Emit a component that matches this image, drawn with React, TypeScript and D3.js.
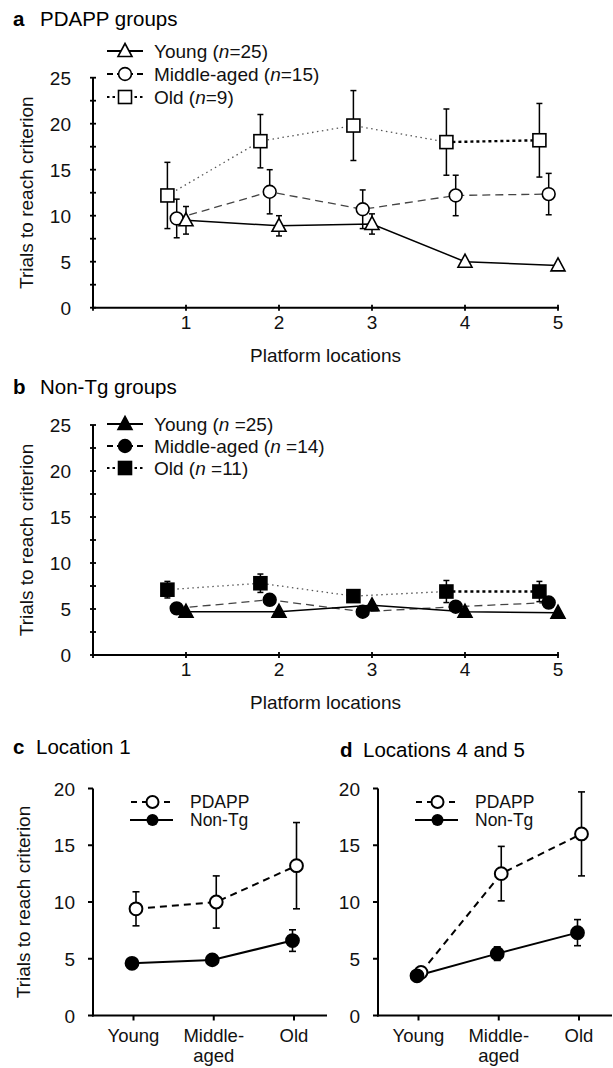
import React from 'react';
import * as d3 from 'd3';

// ---------- DATA ----------
const locations = [1, 2, 3, 4, 5];

// Panel a: PDAPP groups (means and s.e.m.)
const pdappYoung = [9.5, 8.9, 9.1, 5.0, 4.6];
const pdappYoungErr = [1.5, 1.1, 1.1, 0.3, 0.3];
const pdappMiddle = [9.7, 12.6, 10.7, 12.2, 12.35];
const pdappMiddleErr = [2.1, 2.4, 2.1, 2.2, 2.25];
const pdappOld = [12.2, 18.1, 19.8, 18.0, 18.2];
const pdappOldErr = [3.6, 2.9, 3.8, 3.6, 4.0];

// Panel b: Non-Tg groups
const nonTgYoung = [4.7, 4.7, 5.4, 4.7, 4.6];
const nonTgYoungErr = [0.3, 0.3, 0.3, 0.3, 0.3];
const nonTgMiddle = [5.07, 6.0, 4.7, 5.25, 5.7];
const nonTgMiddleErr = [0.4, 0.4, 0.4, 0.4, 0.6];
const nonTgOld = [7.1, 7.8, 6.4, 6.9, 6.9];
const nonTgOldErr = [0.9, 1.0, 0.65, 1.2, 1.1];

// Panels c, d
const ageGroups = ['Young', 'Middle-aged', 'Old'];
const ageLabels = [['Young'], ['Middle-', 'aged'], ['Old']];
const loc1Pdapp = [9.4, 10.0, 13.2];
const loc1PdappErr = [1.5, 2.3, 3.8];
const loc1NonTg = [4.6, 4.9, 6.6];
const loc1NonTgErr = [0.3, 0.3, 0.95];
const loc45Pdapp = [3.8, 12.5, 16.0];
const loc45PdappErr = [0.3, 2.4, 3.7];
const loc45NonTg = [3.5, 5.45, 7.3];
const loc45NonTgErr = [0.3, 0.6, 1.15];

const yTicksAB = d3.range(0, 25.01, 2.5);
const yLabelsAB = [0, 5, 10, 15, 20, 25];
const yTicksCD = [0, 5, 10, 15, 20];

const FONT = "'Liberation Sans', Arial, Helvetica, sans-serif";
const FS = 19;
const TFS = 20.5;
const LFS = 17.5;

type Marker = 'triangle' | 'circle' | 'square';

function MarkerShape({ type, x, y, filled }: { type: Marker; x: number; y: number; filled: boolean }) {
  const fill = filled ? '#000' : '#fff';
  const sw = 1.6;
  if (type === 'circle') return <circle cx={x} cy={y} r={6.4} fill={fill} stroke="#000" strokeWidth={sw} />;
  if (type === 'square')
    return <rect x={x - 6.5} y={y - 6.5} width={13} height={13} fill={fill} stroke="#000" strokeWidth={sw} />;
  const p = `M${x},${y - 7.5}L${x + 7},${y + 5.5}L${x - 7},${y + 5.5}Z`;
  return <path d={p} fill={fill} stroke="#000" strokeWidth={sw} strokeLinejoin="miter" />;
}

function ErrorBar({ x, yHi, yLo, cap = 3, sw = 1.5 }: { x: number; yHi: number; yLo: number; cap?: number; sw?: number }) {
  return (
    <g stroke="#000" strokeWidth={sw}>
      <line x1={x} x2={x} y1={yHi} y2={yLo} />
      <line x1={x - cap} x2={x + cap} y1={yHi} y2={yHi} />
      <line x1={x - cap} x2={x + cap} y1={yLo} y2={yLo} />
    </g>
  );
}

interface Series {
  values: number[];
  errs: number[];
  offset: number;
  marker: Marker;
  dash?: string;
  color: string;
  width: number;
  label: string;
  n: string;
}

function GroupPanel({
  y0, y25, title, letter, titleY, legendRows, series, filled,
}: {
  y0: number; y25: number; title: string; letter: string; titleY: number; legendRows: number[]; series: Series[]; filled: boolean;
}) {
  const x = d3.scaleLinear().domain([0, 5]).range([93, 558]);
  const y = d3.scaleLinear().domain([0, 25]).range([y0, y25]);
  const line = d3.line<[number, number]>().x((d) => d[0]).y((d) => d[1]);
  return (
    <g>
      <text x={13} y={titleY} fontFamily={FONT} fontSize={TFS}>
        <tspan fontWeight="bold">{letter}</tspan>
        <tspan x={40}>{title}</tspan>
      </text>
      {/* axes */}
      <g stroke="#000" strokeWidth={2}>
        <line x1={x(0)} x2={x(0)} y1={y(25)} y2={y(0) + 1} />
        <line x1={x(0) - 1} x2={x(5) + 1} y1={y(0)} y2={y(0)} />
      </g>
      <g stroke="#000" strokeWidth={1.8}>
        {yTicksAB.map((t) => (
          <line key={'yt' + t} x1={x(0) - 3} x2={x(0) + 3} y1={y(t)} y2={y(t)} />
        ))}
        {[0, ...locations].map((t) => (
          <line key={'xt' + t} x1={x(t)} x2={x(t)} y1={y(0) - 3} y2={y(0) + 3} />
        ))}
      </g>
      <g fontFamily={FONT} fontSize={FS} fill="#111">
        {yLabelsAB.map((t) => (
          <text key={'yl' + t} x={71} y={y(t) + 7} textAnchor="end">{t}</text>
        ))}
        {locations.map((t) => (
          <text key={'xl' + t} x={x(t)} y={y(0) + 21} textAnchor="middle">{t}</text>
        ))}
        <text x={(x(0) + x(5)) / 2} y={y(0) + 54} textAnchor="middle">Platform locations</text>
        <text transform={`translate(33,${(y(0) + y(25)) / 2}) rotate(-90)`} textAnchor="middle">Trials to reach criterion</text>
      </g>
      {/* lines */}
      {series.map((s, si) => {
        const pts: [number, number][] = s.values.map((v, i) => [x(locations[i] + s.offset), y(v)]);
        if (si === 0) {
          return (
            <g key={'ln' + si}>
              <path d={line(pts.slice(0, 4))!} fill="none" stroke={s.color} strokeWidth={s.width} strokeDasharray={s.dash} />
              <path d={line(pts.slice(3, 5))!} fill="none" stroke="#000" strokeWidth={2.4} strokeDasharray="3,3" />
            </g>
          );
        }
        return <path key={'ln' + si} d={line(pts)!} fill="none" stroke={s.color} strokeWidth={s.width} strokeDasharray={s.dash} />;
      })}
      {/* error bars & markers */}
      {series.map((s, si) => (
        <g key={'mk' + si}>
          {s.values.map((v, i) => {
            const cx = x(locations[i] + s.offset);
            return (
              <g key={i}>
                <ErrorBar x={cx} yHi={y(v + s.errs[i])} yLo={y(v - s.errs[i])} />
                <MarkerShape type={s.marker} x={cx} y={y(v)} filled={filled} />
              </g>
            );
          })}
        </g>
      ))}
      {/* legend */}
      {[...series].reverse().map((s, i) => {
        const ry = legendRows[i];
        return (
          <g key={'lg' + i}>
            <line x1={107} x2={143} y1={ry} y2={ry} stroke="#000" strokeWidth={1.8}
              strokeDasharray={s.marker === 'triangle' ? undefined : s.marker === 'circle' ? '6,4' : '2.5,3'} />
            <MarkerShape type={s.marker} x={125} y={ry} filled={filled} />
            <text x={154} y={ry + 7} fontFamily={FONT} fontSize={FS} fill="#111">
              {s.label} (<tspan fontStyle="italic">n</tspan>{s.n})
            </text>
          </g>
        );
      })}
    </g>
  );
}

function AgePanel({
  xLeft, letter, title, titleX, titleY, pdapp, pdappErr, nonTg, nonTgErr, showYLabel,
}: {
  xLeft: number; letter: string; title: string; titleX: number; titleY: number;
  pdapp: number[]; pdappErr: number[]; nonTg: number[]; nonTgErr: number[]; showYLabel: boolean;
}) {
  const x = d3.scalePoint<string>().domain(ageGroups).range([xLeft + 40.5, xLeft + 201]);
  const y = d3.scaleLinear().domain([0, 20]).range([1015.5, 788.5]);
  const pOff = 2.5;
  const nOff = -1.5;
  const lineP = d3.line<number>().x((_, i) => x(ageGroups[i])! + pOff).y((d) => y(d));
  const lineN = d3.line<number>().x((_, i) => x(ageGroups[i])! + nOff).y((d) => y(d));
  return (
    <g>
      <text x={titleX} y={titleY} fontFamily={FONT} fontSize={TFS}>
        <tspan fontWeight="bold">{letter}</tspan>
        <tspan x={titleX + 23}>{title}</tspan>
      </text>
      <g stroke="#000" strokeWidth={2}>
        <line x1={xLeft} x2={xLeft} y1={y(20)} y2={y(0) + 1} />
        <line x1={xLeft - 1} x2={xLeft + 234} y1={y(0)} y2={y(0)} />
        {yTicksCD.map((t) => (
          <line key={'t' + t} x1={xLeft - 5} x2={xLeft} y1={y(t)} y2={y(t)} />
        ))}
        {ageGroups.map((g) => (
          <line key={g} x1={x(g)} x2={x(g)} y1={y(0)} y2={y(0) + 5} />
        ))}
      </g>
      <g fontFamily={FONT} fontSize={FS} fill="#111">
        {yTicksCD.map((t) => (
          <text key={'l' + t} x={xLeft - 18} y={y(t) + 7} textAnchor="end">{t}</text>
        ))}
        {ageGroups.map((g, i) => (
          <text key={'c' + g} x={x(g)} y={1042} textAnchor="middle" fontSize={18.5}>
            {ageLabels[i].map((s, k) => (
              <tspan key={k} x={x(g)} dy={k === 0 ? 0 : 20}>{s}</tspan>
            ))}
          </text>
        ))}
        {showYLabel && (
          <text transform={`translate(30,${(y(0) + y(20)) / 2}) rotate(-90)`} textAnchor="middle">Trials to reach criterion</text>
        )}
      </g>
      <path d={lineP(pdapp)!} fill="none" stroke="#000" strokeWidth={2} strokeDasharray="7,5" />
      <path d={lineN(nonTg)!} fill="none" stroke="#000" strokeWidth={2} />
      {pdapp.map((v, i) => {
        const cx = x(ageGroups[i])! + pOff;
        return <ErrorBar key={'p' + i} x={cx} yHi={y(v + pdappErr[i])} yLo={y(v - pdappErr[i])} cap={3.5} sw={1.6} />;
      })}
      {nonTg.map((v, i) => {
        const cx = x(ageGroups[i])! + nOff;
        return <ErrorBar key={'n' + i} x={cx} yHi={y(v + nonTgErr[i])} yLo={y(v - nonTgErr[i])} cap={3.5} sw={1.6} />;
      })}
      {pdapp.map((v, i) => (
        <circle key={'pc' + i} cx={x(ageGroups[i])! + pOff} cy={y(v)} r={6.4} fill="#fff" stroke="#000" strokeWidth={2} />
      ))}
      {nonTg.map((v, i) => (
        <circle key={'nc' + i} cx={x(ageGroups[i])! + nOff} cy={y(v)} r={6.4} fill="#000" stroke="#000" strokeWidth={2} />
      ))}
      {/* legend */}
      <g>
        <line x1={xLeft + 37} x2={xLeft + 80} y1={802} y2={802} stroke="#000" strokeWidth={2} strokeDasharray="6,5" strokeDashoffset={-1} />
        <circle cx={xLeft + 59.5} cy={802} r={6} fill="#fff" stroke="#000" strokeWidth={2} />
        <text x={xLeft + 97} y={808} fontFamily={FONT} fontSize={LFS} fill="#111">PDAPP</text>
        <line x1={xLeft + 37} x2={xLeft + 80} y1={820} y2={820} stroke="#000" strokeWidth={2} />
        <circle cx={xLeft + 59.5} cy={820} r={6} fill="#000" />
        <text x={xLeft + 97} y={826} fontFamily={FONT} fontSize={LFS} fill="#111">Non-Tg</text>
      </g>
    </g>
  );
}

export default function App() {
  const seriesA: Series[] = [
    { values: pdappOld, errs: pdappOldErr, offset: -0.2, marker: 'square', dash: '1.5,3.5', color: '#555', width: 1.3, label: 'Old', n: '=9' },
    { values: pdappMiddle, errs: pdappMiddleErr, offset: -0.1, marker: 'circle', dash: '8,5', color: '#444', width: 1.3, label: 'Middle-aged', n: '=15' },
    { values: pdappYoung, errs: pdappYoungErr, offset: 0, marker: 'triangle', color: '#000', width: 1.5, label: 'Young', n: '=25' },
  ];
  const seriesB: Series[] = [
    { values: nonTgOld, errs: nonTgOldErr, offset: -0.2, marker: 'square', dash: '1.5,3.5', color: '#555', width: 1.3, label: 'Old', n: ' =11' },
    { values: nonTgMiddle, errs: nonTgMiddleErr, offset: -0.1, marker: 'circle', dash: '8,5', color: '#444', width: 1.3, label: 'Middle-aged', n: ' =14' },
    { values: nonTgYoung, errs: nonTgYoungErr, offset: 0, marker: 'triangle', color: '#000', width: 1.5, label: 'Young', n: ' =25' },
  ];
  return (
    <svg width={613} height={1068} style={{ position: 'absolute', left: 0, top: 0, background: '#fff' }}>
      <rect width={613} height={1068} fill="#fff" />
      <GroupPanel y0={307.7} y25={77.7} title="PDAPP groups" letter="a" titleY={26} legendRows={[51, 74, 97]} series={seriesA} filled={false} />
      <GroupPanel y0={655} y25={425} title="Non-Tg groups" letter="b" titleY={394} legendRows={[424, 446, 468]} series={seriesB} filled={true} />
      <AgePanel xLeft={93} letter="c" title="Location 1" titleX={13} titleY={754} pdapp={loc1Pdapp} pdappErr={loc1PdappErr} nonTg={loc1NonTg} nonTgErr={loc1NonTgErr} showYLabel={true} />
      <AgePanel xLeft={378} letter="d" title="Locations 4 and 5" titleX={340} titleY={757} pdapp={loc45Pdapp} pdappErr={loc45PdappErr} nonTg={loc45NonTg} nonTgErr={loc45NonTgErr} showYLabel={false} />
    </svg>
  );
}
